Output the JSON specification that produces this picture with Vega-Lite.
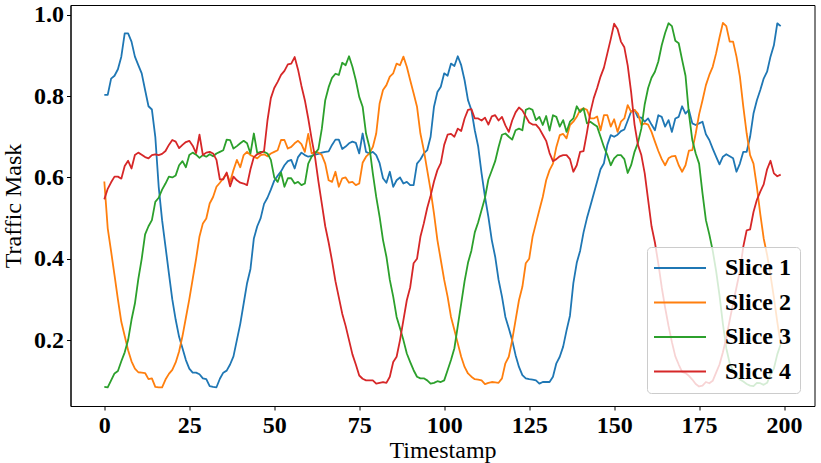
{
 "$schema": "https://vega.github.io/schema/vega-lite/v6.json",
 "width": 744,
 "height": 401,
 "autosize": "none",
 "padding": {"left": 70.5, "top": 5, "right": 6.5, "bottom": 57},
 "background": "white",
 "config": {
  "font": "Liberation Serif",
  "view": {"stroke": "#000", "strokeWidth": 1},
  "axis": {
   "grid": false,
   "domainColor": "#000",
   "tickColor": "#000",
   "tickSize": 4,
   "labelFont": "Liberation Serif",
   "labelFontSize": 24,
   "labelFontWeight": "bold",
   "labelColor": "#000",
   "labelPadding": 3,
   "labelFlush": false,
   "labelOverlap": false,
   "titleFont": "Liberation Serif",
   "titleFontSize": 24,
   "titleFontWeight": "normal",
   "titleColor": "#000"
  }
 },
 "data": {"values": [
{"t":0,"Slice 1":0.803,"Slice 2":0.59,"Slice 3":0.085,"Slice 4":0.546},
{"t":1,"Slice 1":0.803,"Slice 2":0.475,"Slice 3":0.084,"Slice 4":0.572},
{"t":2,"Slice 1":0.843,"Slice 2":0.418,"Slice 3":0.101,"Slice 4":0.588},
{"t":3,"Slice 1":0.85,"Slice 2":0.36,"Slice 3":0.118,"Slice 4":0.602},
{"t":4,"Slice 1":0.866,"Slice 2":0.3,"Slice 3":0.124,"Slice 4":0.602},
{"t":5,"Slice 1":0.897,"Slice 2":0.245,"Slice 3":0.148,"Slice 4":0.597},
{"t":6,"Slice 1":0.954,"Slice 2":0.21,"Slice 3":0.17,"Slice 4":0.628},
{"t":7,"Slice 1":0.954,"Slice 2":0.175,"Slice 3":0.2,"Slice 4":0.641},
{"t":8,"Slice 1":0.934,"Slice 2":0.148,"Slice 3":0.25,"Slice 4":0.622},
{"t":9,"Slice 1":0.897,"Slice 2":0.13,"Slice 3":0.29,"Slice 4":0.655},
{"t":10,"Slice 1":0.876,"Slice 2":0.121,"Slice 3":0.35,"Slice 4":0.661},
{"t":11,"Slice 1":0.856,"Slice 2":0.12,"Slice 3":0.4,"Slice 4":0.656},
{"t":12,"Slice 1":0.815,"Slice 2":0.119,"Slice 3":0.46,"Slice 4":0.65},
{"t":13,"Slice 1":0.775,"Slice 2":0.104,"Slice 3":0.48,"Slice 4":0.647},
{"t":14,"Slice 1":0.767,"Slice 2":0.106,"Slice 3":0.495,"Slice 4":0.655},
{"t":15,"Slice 1":0.7,"Slice 2":0.085,"Slice 3":0.54,"Slice 4":0.657},
{"t":16,"Slice 1":0.577,"Slice 2":0.084,"Slice 3":0.55,"Slice 4":0.655},
{"t":17,"Slice 1":0.495,"Slice 2":0.084,"Slice 3":0.57,"Slice 4":0.658},
{"t":18,"Slice 1":0.43,"Slice 2":0.103,"Slice 3":0.585,"Slice 4":0.665},
{"t":19,"Slice 1":0.364,"Slice 2":0.117,"Slice 3":0.602,"Slice 4":0.68},
{"t":20,"Slice 1":0.3,"Slice 2":0.127,"Slice 3":0.6,"Slice 4":0.692},
{"t":21,"Slice 1":0.25,"Slice 2":0.145,"Slice 3":0.605,"Slice 4":0.688},
{"t":22,"Slice 1":0.208,"Slice 2":0.172,"Slice 3":0.63,"Slice 4":0.672},
{"t":23,"Slice 1":0.18,"Slice 2":0.21,"Slice 3":0.64,"Slice 4":0.68},
{"t":24,"Slice 1":0.151,"Slice 2":0.255,"Slice 3":0.625,"Slice 4":0.687},
{"t":25,"Slice 1":0.13,"Slice 2":0.3,"Slice 3":0.655,"Slice 4":0.69},
{"t":26,"Slice 1":0.12,"Slice 2":0.35,"Slice 3":0.661,"Slice 4":0.678},
{"t":27,"Slice 1":0.12,"Slice 2":0.4,"Slice 3":0.656,"Slice 4":0.66},
{"t":28,"Slice 1":0.116,"Slice 2":0.455,"Slice 3":0.648,"Slice 4":0.705},
{"t":29,"Slice 1":0.106,"Slice 2":0.487,"Slice 3":0.655,"Slice 4":0.655},
{"t":30,"Slice 1":0.104,"Slice 2":0.499,"Slice 3":0.651,"Slice 4":0.661},
{"t":31,"Slice 1":0.087,"Slice 2":0.536,"Slice 3":0.657,"Slice 4":0.663},
{"t":32,"Slice 1":0.085,"Slice 2":0.552,"Slice 3":0.652,"Slice 4":0.659},
{"t":33,"Slice 1":0.084,"Slice 2":0.577,"Slice 3":0.659,"Slice 4":0.643},
{"t":34,"Slice 1":0.105,"Slice 2":0.587,"Slice 3":0.663,"Slice 4":0.595},
{"t":35,"Slice 1":0.12,"Slice 2":0.598,"Slice 3":0.667,"Slice 4":0.595},
{"t":36,"Slice 1":0.125,"Slice 2":0.61,"Slice 3":0.693,"Slice 4":0.612},
{"t":37,"Slice 1":0.14,"Slice 2":0.589,"Slice 3":0.692,"Slice 4":0.578},
{"t":38,"Slice 1":0.16,"Slice 2":0.618,"Slice 3":0.671,"Slice 4":0.602},
{"t":39,"Slice 1":0.2,"Slice 2":0.643,"Slice 3":0.677,"Slice 4":0.593},
{"t":40,"Slice 1":0.24,"Slice 2":0.625,"Slice 3":0.684,"Slice 4":0.587},
{"t":41,"Slice 1":0.29,"Slice 2":0.655,"Slice 3":0.69,"Slice 4":0.585},
{"t":42,"Slice 1":0.34,"Slice 2":0.663,"Slice 3":0.684,"Slice 4":0.581},
{"t":43,"Slice 1":0.375,"Slice 2":0.655,"Slice 3":0.659,"Slice 4":0.62},
{"t":44,"Slice 1":0.45,"Slice 2":0.651,"Slice 3":0.708,"Slice 4":0.65},
{"t":45,"Slice 1":0.48,"Slice 2":0.647,"Slice 3":0.66,"Slice 4":0.657},
{"t":46,"Slice 1":0.5,"Slice 2":0.655,"Slice 3":0.663,"Slice 4":0.66},
{"t":47,"Slice 1":0.535,"Slice 2":0.657,"Slice 3":0.663,"Slice 4":0.665},
{"t":48,"Slice 1":0.55,"Slice 2":0.652,"Slice 3":0.659,"Slice 4":0.74},
{"t":49,"Slice 1":0.57,"Slice 2":0.659,"Slice 3":0.643,"Slice 4":0.795},
{"t":50,"Slice 1":0.592,"Slice 2":0.663,"Slice 3":0.6,"Slice 4":0.82},
{"t":51,"Slice 1":0.604,"Slice 2":0.667,"Slice 3":0.589,"Slice 4":0.835},
{"t":52,"Slice 1":0.615,"Slice 2":0.692,"Slice 3":0.612,"Slice 4":0.852},
{"t":53,"Slice 1":0.63,"Slice 2":0.692,"Slice 3":0.577,"Slice 4":0.862},
{"t":54,"Slice 1":0.64,"Slice 2":0.671,"Slice 3":0.598,"Slice 4":0.878},
{"t":55,"Slice 1":0.643,"Slice 2":0.675,"Slice 3":0.598,"Slice 4":0.88},
{"t":56,"Slice 1":0.622,"Slice 2":0.684,"Slice 3":0.585,"Slice 4":0.896},
{"t":57,"Slice 1":0.65,"Slice 2":0.69,"Slice 3":0.589,"Slice 4":0.865},
{"t":58,"Slice 1":0.661,"Slice 2":0.682,"Slice 3":0.581,"Slice 4":0.825},
{"t":59,"Slice 1":0.655,"Slice 2":0.663,"Slice 3":0.585,"Slice 4":0.79},
{"t":60,"Slice 1":0.651,"Slice 2":0.707,"Slice 3":0.634,"Slice 4":0.745},
{"t":61,"Slice 1":0.653,"Slice 2":0.659,"Slice 3":0.651,"Slice 4":0.695},
{"t":62,"Slice 1":0.656,"Slice 2":0.663,"Slice 3":0.659,"Slice 4":0.65},
{"t":63,"Slice 1":0.658,"Slice 2":0.661,"Slice 3":0.67,"Slice 4":0.59},
{"t":64,"Slice 1":0.661,"Slice 2":0.655,"Slice 3":0.72,"Slice 4":0.535},
{"t":65,"Slice 1":0.663,"Slice 2":0.634,"Slice 3":0.79,"Slice 4":0.48},
{"t":66,"Slice 1":0.664,"Slice 2":0.593,"Slice 3":0.822,"Slice 4":0.44},
{"t":67,"Slice 1":0.68,"Slice 2":0.589,"Slice 3":0.845,"Slice 4":0.395},
{"t":68,"Slice 1":0.693,"Slice 2":0.614,"Slice 3":0.855,"Slice 4":0.345},
{"t":69,"Slice 1":0.693,"Slice 2":0.577,"Slice 3":0.852,"Slice 4":0.305},
{"t":70,"Slice 1":0.67,"Slice 2":0.598,"Slice 3":0.882,"Slice 4":0.265},
{"t":71,"Slice 1":0.676,"Slice 2":0.6,"Slice 3":0.876,"Slice 4":0.235},
{"t":72,"Slice 1":0.684,"Slice 2":0.587,"Slice 3":0.898,"Slice 4":0.2},
{"t":73,"Slice 1":0.688,"Slice 2":0.589,"Slice 3":0.872,"Slice 4":0.165},
{"t":74,"Slice 1":0.685,"Slice 2":0.581,"Slice 3":0.839,"Slice 4":0.14},
{"t":75,"Slice 1":0.659,"Slice 2":0.585,"Slice 3":0.798,"Slice 4":0.113},
{"t":76,"Slice 1":0.708,"Slice 2":0.636,"Slice 3":0.774,"Slice 4":0.105},
{"t":77,"Slice 1":0.663,"Slice 2":0.651,"Slice 3":0.708,"Slice 4":0.101},
{"t":78,"Slice 1":0.659,"Slice 2":0.659,"Slice 3":0.675,"Slice 4":0.101},
{"t":79,"Slice 1":0.663,"Slice 2":0.675,"Slice 3":0.61,"Slice 4":0.101},
{"t":80,"Slice 1":0.655,"Slice 2":0.708,"Slice 3":0.552,"Slice 4":0.093},
{"t":81,"Slice 1":0.635,"Slice 2":0.782,"Slice 3":0.503,"Slice 4":0.095},
{"t":82,"Slice 1":0.598,"Slice 2":0.815,"Slice 3":0.446,"Slice 4":0.097},
{"t":83,"Slice 1":0.587,"Slice 2":0.827,"Slice 3":0.405,"Slice 4":0.095},
{"t":84,"Slice 1":0.614,"Slice 2":0.848,"Slice 3":0.348,"Slice 4":0.11},
{"t":85,"Slice 1":0.577,"Slice 2":0.856,"Slice 3":0.307,"Slice 4":0.146},
{"t":86,"Slice 1":0.593,"Slice 2":0.88,"Slice 3":0.257,"Slice 4":0.159},
{"t":87,"Slice 1":0.6,"Slice 2":0.876,"Slice 3":0.229,"Slice 4":0.2},
{"t":88,"Slice 1":0.585,"Slice 2":0.897,"Slice 3":0.2,"Slice 4":0.249},
{"t":89,"Slice 1":0.589,"Slice 2":0.872,"Slice 3":0.167,"Slice 4":0.298},
{"t":90,"Slice 1":0.581,"Slice 2":0.839,"Slice 3":0.146,"Slice 4":0.33},
{"t":91,"Slice 1":0.581,"Slice 2":0.807,"Slice 3":0.126,"Slice 4":0.389},
{"t":92,"Slice 1":0.634,"Slice 2":0.774,"Slice 3":0.11,"Slice 4":0.4},
{"t":93,"Slice 1":0.644,"Slice 2":0.708,"Slice 3":0.106,"Slice 4":0.454},
{"t":94,"Slice 1":0.659,"Slice 2":0.667,"Slice 3":0.106,"Slice 4":0.487},
{"t":95,"Slice 1":0.667,"Slice 2":0.618,"Slice 3":0.101,"Slice 4":0.525},
{"t":96,"Slice 1":0.7,"Slice 2":0.569,"Slice 3":0.093,"Slice 4":0.555},
{"t":97,"Slice 1":0.774,"Slice 2":0.511,"Slice 3":0.095,"Slice 4":0.59},
{"t":98,"Slice 1":0.81,"Slice 2":0.446,"Slice 3":0.099,"Slice 4":0.618},
{"t":99,"Slice 1":0.823,"Slice 2":0.397,"Slice 3":0.097,"Slice 4":0.635},
{"t":100,"Slice 1":0.856,"Slice 2":0.348,"Slice 3":0.101,"Slice 4":0.68},
{"t":101,"Slice 1":0.85,"Slice 2":0.307,"Slice 3":0.126,"Slice 4":0.705},
{"t":102,"Slice 1":0.88,"Slice 2":0.257,"Slice 3":0.151,"Slice 4":0.707},
{"t":103,"Slice 1":0.874,"Slice 2":0.225,"Slice 3":0.18,"Slice 4":0.7},
{"t":104,"Slice 1":0.898,"Slice 2":0.192,"Slice 3":0.235,"Slice 4":0.72},
{"t":105,"Slice 1":0.876,"Slice 2":0.159,"Slice 3":0.29,"Slice 4":0.714},
{"t":106,"Slice 1":0.839,"Slice 2":0.134,"Slice 3":0.345,"Slice 4":0.745},
{"t":107,"Slice 1":0.79,"Slice 2":0.118,"Slice 3":0.39,"Slice 4":0.766},
{"t":108,"Slice 1":0.766,"Slice 2":0.11,"Slice 3":0.42,"Slice 4":0.768},
{"t":109,"Slice 1":0.716,"Slice 2":0.104,"Slice 3":0.465,"Slice 4":0.745},
{"t":110,"Slice 1":0.676,"Slice 2":0.103,"Slice 3":0.49,"Slice 4":0.745},
{"t":111,"Slice 1":0.61,"Slice 2":0.101,"Slice 3":0.52,"Slice 4":0.74},
{"t":112,"Slice 1":0.552,"Slice 2":0.092,"Slice 3":0.55,"Slice 4":0.747},
{"t":113,"Slice 1":0.503,"Slice 2":0.095,"Slice 3":0.595,"Slice 4":0.73},
{"t":114,"Slice 1":0.446,"Slice 2":0.097,"Slice 3":0.617,"Slice 4":0.75},
{"t":115,"Slice 1":0.405,"Slice 2":0.096,"Slice 3":0.64,"Slice 4":0.753},
{"t":116,"Slice 1":0.348,"Slice 2":0.095,"Slice 3":0.675,"Slice 4":0.74},
{"t":117,"Slice 1":0.307,"Slice 2":0.106,"Slice 3":0.705,"Slice 4":0.749},
{"t":118,"Slice 1":0.257,"Slice 2":0.143,"Slice 3":0.708,"Slice 4":0.728},
{"t":119,"Slice 1":0.229,"Slice 2":0.159,"Slice 3":0.7,"Slice 4":0.712},
{"t":120,"Slice 1":0.2,"Slice 2":0.2,"Slice 3":0.693,"Slice 4":0.74},
{"t":121,"Slice 1":0.163,"Slice 2":0.249,"Slice 3":0.716,"Slice 4":0.76},
{"t":122,"Slice 1":0.134,"Slice 2":0.298,"Slice 3":0.72,"Slice 4":0.772},
{"t":123,"Slice 1":0.114,"Slice 2":0.331,"Slice 3":0.716,"Slice 4":0.765},
{"t":124,"Slice 1":0.106,"Slice 2":0.389,"Slice 3":0.766,"Slice 4":0.75},
{"t":125,"Slice 1":0.104,"Slice 2":0.4,"Slice 3":0.77,"Slice 4":0.735},
{"t":126,"Slice 1":0.103,"Slice 2":0.454,"Slice 3":0.766,"Slice 4":0.73},
{"t":127,"Slice 1":0.101,"Slice 2":0.487,"Slice 3":0.741,"Slice 4":0.73},
{"t":128,"Slice 1":0.093,"Slice 2":0.52,"Slice 3":0.749,"Slice 4":0.72},
{"t":129,"Slice 1":0.097,"Slice 2":0.552,"Slice 3":0.729,"Slice 4":0.705},
{"t":130,"Slice 1":0.097,"Slice 2":0.593,"Slice 3":0.751,"Slice 4":0.69},
{"t":131,"Slice 1":0.097,"Slice 2":0.618,"Slice 3":0.715,"Slice 4":0.66},
{"t":132,"Slice 1":0.11,"Slice 2":0.634,"Slice 3":0.753,"Slice 4":0.64},
{"t":133,"Slice 1":0.143,"Slice 2":0.675,"Slice 3":0.749,"Slice 4":0.645},
{"t":134,"Slice 1":0.159,"Slice 2":0.704,"Slice 3":0.725,"Slice 4":0.652},
{"t":135,"Slice 1":0.184,"Slice 2":0.707,"Slice 3":0.741,"Slice 4":0.655},
{"t":136,"Slice 1":0.224,"Slice 2":0.696,"Slice 3":0.712,"Slice 4":0.655},
{"t":137,"Slice 1":0.26,"Slice 2":0.729,"Slice 3":0.737,"Slice 4":0.645},
{"t":138,"Slice 1":0.34,"Slice 2":0.737,"Slice 3":0.745,"Slice 4":0.614},
{"t":139,"Slice 1":0.39,"Slice 2":0.749,"Slice 3":0.775,"Slice 4":0.63},
{"t":140,"Slice 1":0.42,"Slice 2":0.766,"Slice 3":0.761,"Slice 4":0.663},
{"t":141,"Slice 1":0.465,"Slice 2":0.77,"Slice 3":0.77,"Slice 4":0.665},
{"t":142,"Slice 1":0.5,"Slice 2":0.766,"Slice 3":0.733,"Slice 4":0.71},
{"t":143,"Slice 1":0.53,"Slice 2":0.745,"Slice 3":0.737,"Slice 4":0.76},
{"t":144,"Slice 1":0.56,"Slice 2":0.745,"Slice 3":0.731,"Slice 4":0.795},
{"t":145,"Slice 1":0.59,"Slice 2":0.75,"Slice 3":0.725,"Slice 4":0.82},
{"t":146,"Slice 1":0.62,"Slice 2":0.716,"Slice 3":0.7,"Slice 4":0.848},
{"t":147,"Slice 1":0.635,"Slice 2":0.753,"Slice 3":0.675,"Slice 4":0.87},
{"t":148,"Slice 1":0.68,"Slice 2":0.753,"Slice 3":0.655,"Slice 4":0.905},
{"t":149,"Slice 1":0.704,"Slice 2":0.725,"Slice 3":0.63,"Slice 4":0.94},
{"t":150,"Slice 1":0.7,"Slice 2":0.743,"Slice 3":0.647,"Slice 4":0.978},
{"t":151,"Slice 1":0.705,"Slice 2":0.712,"Slice 3":0.655,"Slice 4":0.965},
{"t":152,"Slice 1":0.714,"Slice 2":0.737,"Slice 3":0.655,"Slice 4":0.934},
{"t":153,"Slice 1":0.718,"Slice 2":0.745,"Slice 3":0.645,"Slice 4":0.92},
{"t":154,"Slice 1":0.74,"Slice 2":0.778,"Slice 3":0.611,"Slice 4":0.875},
{"t":155,"Slice 1":0.762,"Slice 2":0.761,"Slice 3":0.63,"Slice 4":0.81},
{"t":156,"Slice 1":0.766,"Slice 2":0.766,"Slice 3":0.663,"Slice 4":0.73},
{"t":157,"Slice 1":0.748,"Slice 2":0.757,"Slice 3":0.685,"Slice 4":0.68},
{"t":158,"Slice 1":0.747,"Slice 2":0.729,"Slice 3":0.72,"Slice 4":0.655},
{"t":159,"Slice 1":0.737,"Slice 2":0.733,"Slice 3":0.78,"Slice 4":0.61},
{"t":160,"Slice 1":0.745,"Slice 2":0.73,"Slice 3":0.82,"Slice 4":0.545},
{"t":161,"Slice 1":0.73,"Slice 2":0.712,"Slice 3":0.845,"Slice 4":0.48},
{"t":162,"Slice 1":0.716,"Slice 2":0.688,"Slice 3":0.86,"Slice 4":0.44},
{"t":163,"Slice 1":0.753,"Slice 2":0.665,"Slice 3":0.885,"Slice 4":0.388},
{"t":164,"Slice 1":0.749,"Slice 2":0.645,"Slice 3":0.925,"Slice 4":0.33},
{"t":165,"Slice 1":0.725,"Slice 2":0.63,"Slice 3":0.955,"Slice 4":0.28},
{"t":166,"Slice 1":0.741,"Slice 2":0.647,"Slice 3":0.979,"Slice 4":0.235},
{"t":167,"Slice 1":0.712,"Slice 2":0.652,"Slice 3":0.972,"Slice 4":0.195},
{"t":168,"Slice 1":0.745,"Slice 2":0.653,"Slice 3":0.936,"Slice 4":0.16},
{"t":169,"Slice 1":0.749,"Slice 2":0.63,"Slice 3":0.93,"Slice 4":0.14},
{"t":170,"Slice 1":0.775,"Slice 2":0.614,"Slice 3":0.889,"Slice 4":0.122},
{"t":171,"Slice 1":0.757,"Slice 2":0.63,"Slice 3":0.85,"Slice 4":0.119},
{"t":172,"Slice 1":0.766,"Slice 2":0.666,"Slice 3":0.757,"Slice 4":0.112},
{"t":173,"Slice 1":0.733,"Slice 2":0.667,"Slice 3":0.692,"Slice 4":0.103},
{"t":174,"Slice 1":0.729,"Slice 2":0.708,"Slice 3":0.659,"Slice 4":0.092},
{"t":175,"Slice 1":0.733,"Slice 2":0.755,"Slice 3":0.634,"Slice 4":0.086},
{"t":176,"Slice 1":0.737,"Slice 2":0.79,"Slice 3":0.561,"Slice 4":0.088},
{"t":177,"Slice 1":0.706,"Slice 2":0.827,"Slice 3":0.495,"Slice 4":0.097},
{"t":178,"Slice 1":0.692,"Slice 2":0.852,"Slice 3":0.46,"Slice 4":0.094},
{"t":179,"Slice 1":0.671,"Slice 2":0.872,"Slice 3":0.42,"Slice 4":0.1},
{"t":180,"Slice 1":0.651,"Slice 2":0.905,"Slice 3":0.37,"Slice 4":0.12},
{"t":181,"Slice 1":0.632,"Slice 2":0.944,"Slice 3":0.31,"Slice 4":0.14},
{"t":182,"Slice 1":0.651,"Slice 2":0.98,"Slice 3":0.24,"Slice 4":0.17},
{"t":183,"Slice 1":0.657,"Slice 2":0.972,"Slice 3":0.18,"Slice 4":0.205},
{"t":184,"Slice 1":0.652,"Slice 2":0.934,"Slice 3":0.143,"Slice 4":0.249},
{"t":185,"Slice 1":0.647,"Slice 2":0.934,"Slice 3":0.125,"Slice 4":0.29},
{"t":186,"Slice 1":0.614,"Slice 2":0.897,"Slice 3":0.11,"Slice 4":0.33},
{"t":187,"Slice 1":0.634,"Slice 2":0.848,"Slice 3":0.103,"Slice 4":0.37},
{"t":188,"Slice 1":0.663,"Slice 2":0.774,"Slice 3":0.098,"Slice 4":0.43},
{"t":189,"Slice 1":0.663,"Slice 2":0.708,"Slice 3":0.092,"Slice 4":0.47},
{"t":190,"Slice 1":0.7,"Slice 2":0.655,"Slice 3":0.088,"Slice 4":0.472},
{"t":191,"Slice 1":0.757,"Slice 2":0.634,"Slice 3":0.087,"Slice 4":0.515},
{"t":192,"Slice 1":0.79,"Slice 2":0.577,"Slice 3":0.095,"Slice 4":0.545},
{"t":193,"Slice 1":0.815,"Slice 2":0.51,"Slice 3":0.094,"Slice 4":0.565},
{"t":194,"Slice 1":0.843,"Slice 2":0.45,"Slice 3":0.09,"Slice 4":0.583},
{"t":195,"Slice 1":0.86,"Slice 2":0.41,"Slice 3":0.095,"Slice 4":0.62},
{"t":196,"Slice 1":0.897,"Slice 2":0.36,"Slice 3":0.115,"Slice 4":0.641},
{"t":197,"Slice 1":0.925,"Slice 2":0.305,"Slice 3":0.13,"Slice 4":0.61},
{"t":198,"Slice 1":0.979,"Slice 2":0.245,"Slice 3":0.165,"Slice 4":0.603},
{"t":199,"Slice 1":0.972,"Slice 2":0.19,"Slice 3":0.19,"Slice 4":0.607}
 ]},
 "transform": [{"fold": ["Slice 1", "Slice 2", "Slice 3", "Slice 4"], "as": ["series", "value"]}],
 "mark": {"type": "line", "strokeWidth": 1.8, "strokeJoin": "round", "strokeCap": "butt"},
 "encoding": {
  "x": {
   "field": "t", "type": "quantitative",
   "scale": {"domain": [-9.95, 208.95], "nice": false, "zero": false},
   "axis": {"values": [0, 25, 50, 75, 100, 125, 150, 175, 200], "format": "d", "title": "Timestamp", "titleY": 51, "titleBaseline": "alphabetic"}
  },
  "y": {
   "field": "value", "type": "quantitative",
   "scale": {"domain": [0.038, 1.024], "nice": false, "zero": false},
   "axis": {"values": [0.2, 0.4, 0.6, 0.8, 1.0], "format": ".1f", "title": "Traffic Mask", "titleX": -50, "titleY": 200.5, "titleBaseline": "alphabetic", "titleAngle": -90}
  },
  "color": {
   "field": "series", "type": "nominal",
   "scale": {"domain": ["Slice 1", "Slice 2", "Slice 3", "Slice 4"], "range": ["#1f77b4", "#ff7f0e", "#2ca02c", "#d62728"]},
   "legend": {
    "title": null,
    "orient": "none",
    "legendX": 576.5,
    "legendY": 242,
    "symbolType": "M-5.2,0H5.2",
    "symbolSize": 100,
    "symbolStrokeWidth": 2,
    "symbolOffset": 12,
    "labelFont": "Liberation Serif",
    "labelFontSize": 24,
    "labelFontWeight": "bold",
    "labelColor": "#000",
    "labelOffset": 33,
    "padding": 9,
    "rowPadding": 10.5,
    "fillColor": "rgba(255,255,255,0.8)",
    "strokeColor": "#cccccc",
    "cornerRadius": 4
   }
  }
 }
}
